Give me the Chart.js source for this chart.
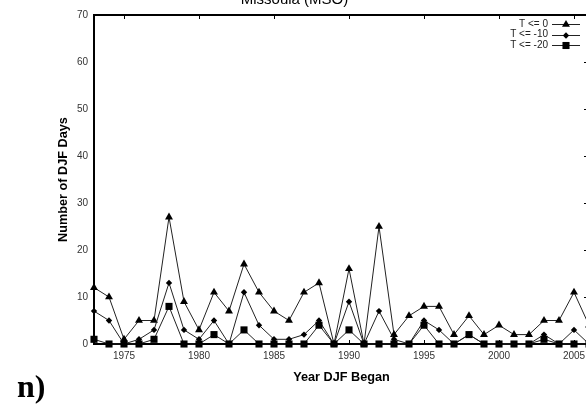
<!DOCTYPE html>
<html>
<head>
<meta charset="utf-8">
<script src="https://cdn.jsdelivr.net/npm/chart.js@4.4.1/dist/chart.umd.min.js"></script>
<style>
  html, body { margin: 0; padding: 0; overflow: hidden; background: #fff; }
  #wrap { position: relative; width: 586px; height: 411px; overflow: hidden; }
  #chart { position: absolute; left: 0; top: -9px; }
  #panel { position: absolute; left: 17px; top: 370px; font: bold 32px "Liberation Serif", "Times New Roman", serif; line-height: 32px; color: #000; }
</style>
</head>
<body>
<div id="wrap">
  <canvas id="chart" width="676" height="420"></canvas>
  <div id="panel">n)</div>
</div>
<script>
// winters (Dec-Jan-Feb) starting in each year
const years = [1973, 1974, 1975, 1976, 1977, 1978, 1979, 1980, 1981, 1982, 1983, 1984,
  1985, 1986, 1987, 1988, 1989, 1990, 1991, 1992, 1993, 1994, 1995, 1996, 1997, 1998,
  1999, 2000, 2001, 2002, 2003, 2004, 2005, 2006];

// number of DJF days at or below each threshold
const daysLe0 = [12, 10, 1, 5, 5, 27, 9, 3, 11, 7, 17, 11, 7, 5, 11, 13, 0, 16, 0, 25,
  2, 6, 8, 8, 2, 6, 2, 4, 2, 2, 5, 5, 11, 4];
const daysLe10 = [7, 5, 0, 1, 3, 13, 3, 1, 5, 0, 11, 4, 1, 1, 2, 5, 0, 9, 0, 7,
  1, 0, 5, 3, 0, 2, 0, 0, 0, 0, 2, 0, 3, 0];
const daysLe20 = [1, 0, 0, 0, 1, 8, 0, 0, 2, 0, 3, 0, 0, 0, 0, 4, 0, 3, 0, 0,
  0, 0, 4, 0, 0, 2, 0, 0, 0, 0, 1, 0, 0, 0];

const seriesLabels = ["T <= 0", "T <= -10", "T <= -20"];
const xTicks = [1975, 1980, 1985, 1990, 1995, 2000, 2005];
const yTicks = [0, 10, 20, 30, 40, 50, 60, 70];

const sansFont = '"Liberation Sans", Arial, sans-serif';

function pts(vals) {
  return years.map((yr, i) => ({ x: yr, y: vals[i] }));
}

function series(label, vals, style, radius, order) {
  return {
    label: label,
    data: pts(vals),
    showLine: true,
    borderColor: "#222",
    borderWidth: 1,
    pointStyle: style,
    pointRadius: radius,
    pointBackgroundColor: "#000",
    pointBorderColor: "#000",
    pointBorderWidth: 0,
    clip: false,
    order: order
  };
}

// gnuplot-like box, inward ticks and legend
const gnuFrame = {
  id: "gnuFrame",
  beforeDatasetsDraw(chart) {
    const { ctx, chartArea: a, scales: { x, y } } = chart;
    ctx.save();
    ctx.strokeStyle = "#000";
    ctx.lineWidth = 2;
    ctx.strokeRect(a.left, a.top, a.right - a.left, a.bottom - a.top);
    ctx.lineWidth = 1;
    ctx.beginPath();
    xTicks.forEach(v => {
      const px = Math.round(x.getPixelForValue(v)) + 0.5;
      ctx.moveTo(px, a.bottom);
      ctx.lineTo(px, a.bottom - 4);
      ctx.moveTo(px, a.top);
      ctx.lineTo(px, a.top + 4);
    });
    yTicks.forEach(v => {
      const py = Math.round(y.getPixelForValue(v)) + 0.5;
      ctx.moveTo(a.right, py);
      ctx.lineTo(a.right - 5, py);
    });
    ctx.stroke();
    ctx.restore();
  },
  afterDatasetsDraw(chart) {
    const { ctx, chartArea: a } = chart;
    ctx.save();
    ctx.font = "10px " + sansFont;
    ctx.textAlign = "right";
    ctx.textBaseline = "middle";
    chart.data.datasets.forEach((ds, i) => {
      const yy = a.top + 9 + i * 10.5;
      ctx.fillStyle = "#222";
      ctx.fillText(ds.label, a.right - 41, yy);
      ctx.strokeStyle = "#222";
      ctx.lineWidth = 1;
      ctx.beginPath();
      ctx.moveTo(a.right - 37, Math.round(yy) + 0.5);
      ctx.lineTo(a.right - 9, Math.round(yy) + 0.5);
      ctx.stroke();
      ctx.fillStyle = "#000";
      Chart.helpers.drawPoint(ctx, { pointStyle: ds.pointStyle, radius: ds.pointRadius, borderWidth: 0, rotation: 0 }, a.right - 23, Math.round(yy) + 0.5);
    });
    ctx.restore();
  }
};

new Chart(document.getElementById("chart").getContext("2d"), {
  type: "scatter",
  data: {
    datasets: [
      series(seriesLabels[0], daysLe0, "triangle", 4.6, 3),
      series(seriesLabels[1], daysLe10, "rectRot", 3.2, 2),
      series(seriesLabels[2], daysLe20, "rect", 5, 1)
    ]
  },
  options: {
    responsive: false,
    animation: false,
    devicePixelRatio: 1,
    layout: { padding: { left: 0, right: 87, top: 0, bottom: 0 } },
    plugins: {
      legend: { display: false },
      tooltip: { enabled: false },
      title: {
        display: true,
        text: "Missoula (MSO)",
        color: "#000",
        font: { family: sansFont, size: 15, weight: "normal" },
        padding: { top: 0, bottom: 6 }
      }
    },
    scales: {
      x: {
        type: "linear",
        min: 1973,
        max: 2006,
        grid: { display: false, drawTicks: false },
        border: { display: false },
        afterBuildTicks: axis => { axis.ticks = xTicks.map(v => ({ value: v })); },
        afterFit: axis => { axis.height = 67; },
        ticks: {
          color: "#333",
          padding: 6,
          maxRotation: 0,
          autoSkip: false,
          font: { family: sansFont, size: 10 },
          callback: v => String(v)
        },
        title: {
          display: true,
          text: "Year DJF Began",
          color: "#000",
          font: { family: sansFont, size: 12.7, weight: "bold" },
          padding: { top: 0, bottom: 26 }
        }
      },
      y: {
        min: 0,
        max: 70,
        grid: { display: false, drawTicks: false },
        border: { display: false },
        afterBuildTicks: axis => { axis.ticks = yTicks.map(v => ({ value: v })); },
        afterFit: axis => { axis.width = 94; },
        ticks: {
          color: "#333",
          padding: 6,
          font: { family: sansFont, size: 10 }
        },
        title: {
          display: true,
          text: "Number of DJF Days",
          color: "#000",
          font: { family: sansFont, size: 12.7, weight: "bold" },
          padding: { top: 56, bottom: 0 }
        }
      }
    }
  },
  plugins: [gnuFrame]
});
</script>
</body>
</html>
